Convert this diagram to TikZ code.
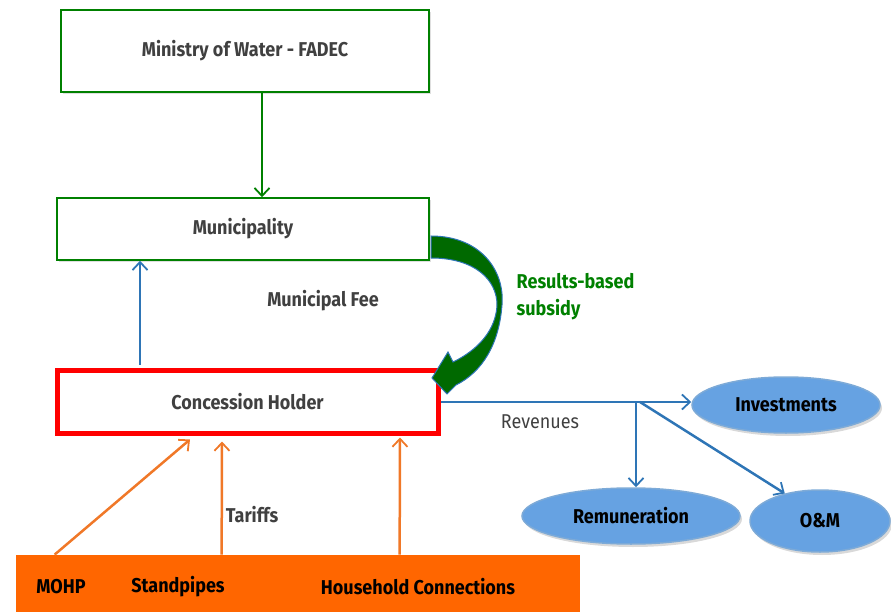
\documentclass[tikz,border=0pt]{standalone}
\usepackage{fontspec}
\newfontfamily\diagfont{Fira Sans}[FakeStretch=0.9]
\usetikzlibrary{arrows.meta,shapes.geometric,shadows}
\definecolor{boxgreen}{RGB}{0,128,0}
\definecolor{subsgreen}{RGB}{0,105,0}
\definecolor{feeblue}{RGB}{46,117,182}
\definecolor{ovalblue}{RGB}{102,162,226}
\definecolor{ovaledge}{RGB}{125,170,215}
\definecolor{baseorange}{RGB}{255,102,0}
\definecolor{tariforange}{RGB}{240,120,40}
\definecolor{labelgray}{RGB}{64,64,64}
\tikzset{every picture/.style={line width=0.75pt}}

\begin{document}
\begin{tikzpicture}[x=1pt,y=1pt,yscale=-1,xscale=1,
	font=\diagfont\fontsize{20}{24}\selectfont\bfseries,
	govbox/.style={draw=boxgreen,line width=1.5pt,fill=white,text=labelgray,inner sep=0pt,drop shadow={opacity=0.25,shadow xshift=2pt,shadow yshift=-2pt}},
	holderbox/.style={draw=red,line width=5pt,fill=white,text=labelgray,inner sep=0pt,drop shadow={opacity=0.25,shadow xshift=2pt,shadow yshift=-2pt}},
	oval/.style={ellipse,draw=ovaledge,line width=1.5pt,fill=ovalblue,inner sep=0pt,drop shadow={opacity=0.3,shadow xshift=2pt,shadow yshift=-3pt}},
	flowtip/.style={-{Straight Barb[length=8pt,width=15pt,line width=1.8pt]}},
	grant/.style={flowtip,draw=boxgreen,line width=2.5pt},
	money/.style={flowtip,draw=feeblue,line width=2.5pt},
	tariff/.style={flowtip,draw=tariforange,line width=2.5pt},
	note/.style={text=labelgray}]
	\useasboundingbox (0,0) rectangle (891,612);

	%Shape: Rectangle [id:ministry]
	\node[govbox,minimum width=368,minimum height=82] (ministry) at (245,51) {Ministry of Water - FADEC};
	%Shape: Rectangle [id:muni]
	\node[govbox,minimum width=372,minimum height=62] (muni) at (243,229) {Municipality};
	%Shape: Rectangle [id:holder]
	\node[holderbox,minimum width=381,minimum height=63] (holder) at (247.5,401.5) {Concession Holder};
	%Shape: Rectangle [id:base]
	\node[fill=baseorange,minimum width=564,minimum height=62,inner sep=0pt] (base) at (298,586) {};

	%Shape: Ellipse [id:invest]
	\node[oval,minimum width=188,minimum height=56] (invest) at (786,405) {Investments};
	%Shape: Ellipse [id:remun]
	\node[oval,minimum width=218,minimum height=56] (remun) at (631,516) {Remuneration};
	%Shape: Ellipse [id:om]
	\node[oval,minimum width=140,minimum height=62] (om) at (820,521) {O\&M};

	% Text Node
	\node (mohp) at (61,587) {MOHP};
	% Text Node
	\node (standpipes) at (178,587) {Standpipes};
	% Text Node
	\node (household) at (418,587) {Household Connections};
	% Text Node
	\node[note] (fee) at (323,301) {Municipal Fee};
	% Text Node
	\node[note] (tariffs) at (252,515) {Tariffs};
	% Text Node
	\node[text=labelgray,font=\diagfont\fontsize{20}{24}\selectfont\mdseries] (revenues) at (540,422) {Revenues};
	% Text Node
	\node[text=boxgreen,align=left,anchor=west,font=\diagfont\fontsize{20}{27}\selectfont\bfseries] (subsidy) at (513,297) {Results-based\\subsidy};

	%Straight Lines [id:grant]
	\coordinate (grantTop) at ([xshift=17pt]ministry.south);
	\draw[grant] (grantTop) -- (grantTop |- muni.north);
	%Straight Lines [id:fee]
	\coordinate (feeBase) at ([xshift=-107.5pt]holder.north);
	\draw[money] ([yshift=-3pt]feeBase) -- (feeBase |- muni.south);

	%Curve Lines [id:subsidy arrow]
	\draw[draw=feeblue,line width=1pt,fill=subsgreen] (431,236) .. controls (480,236) and (505,270) .. (502,305) .. controls (499,345) and (482,372) .. (456,385) -- (447,394) -- (432,378) -- (448,352) -- (453,362) .. controls (478,350) and (496,330) .. (497,305) .. controls (497,280) and (475,258) .. (431,258) -- cycle;

	%Straight Lines [id:revenues]
	\coordinate (split) at (636,402);
	\draw[money] (holder.east |- split) -- (invest.west |- split);
	\draw[money] (split) -- (split |- remun.north);
	\draw[money] ([xshift=4pt]split) -- (om.142);

	%Straight Lines [id:tariffs]
	\draw[tariff] ([xshift=39pt]base.north west) -- ([xshift=-57.5pt,yshift=4pt]holder.south);
	\draw[tariff] ([xshift=206pt]base.north west) -- ([xshift=-25.5pt,yshift=6pt]holder.south);
	\draw[tariff] ([xshift=384pt]base.north west) -- ([xshift=152.5pt,yshift=2pt]holder.south);

\end{tikzpicture}
\end{document}
